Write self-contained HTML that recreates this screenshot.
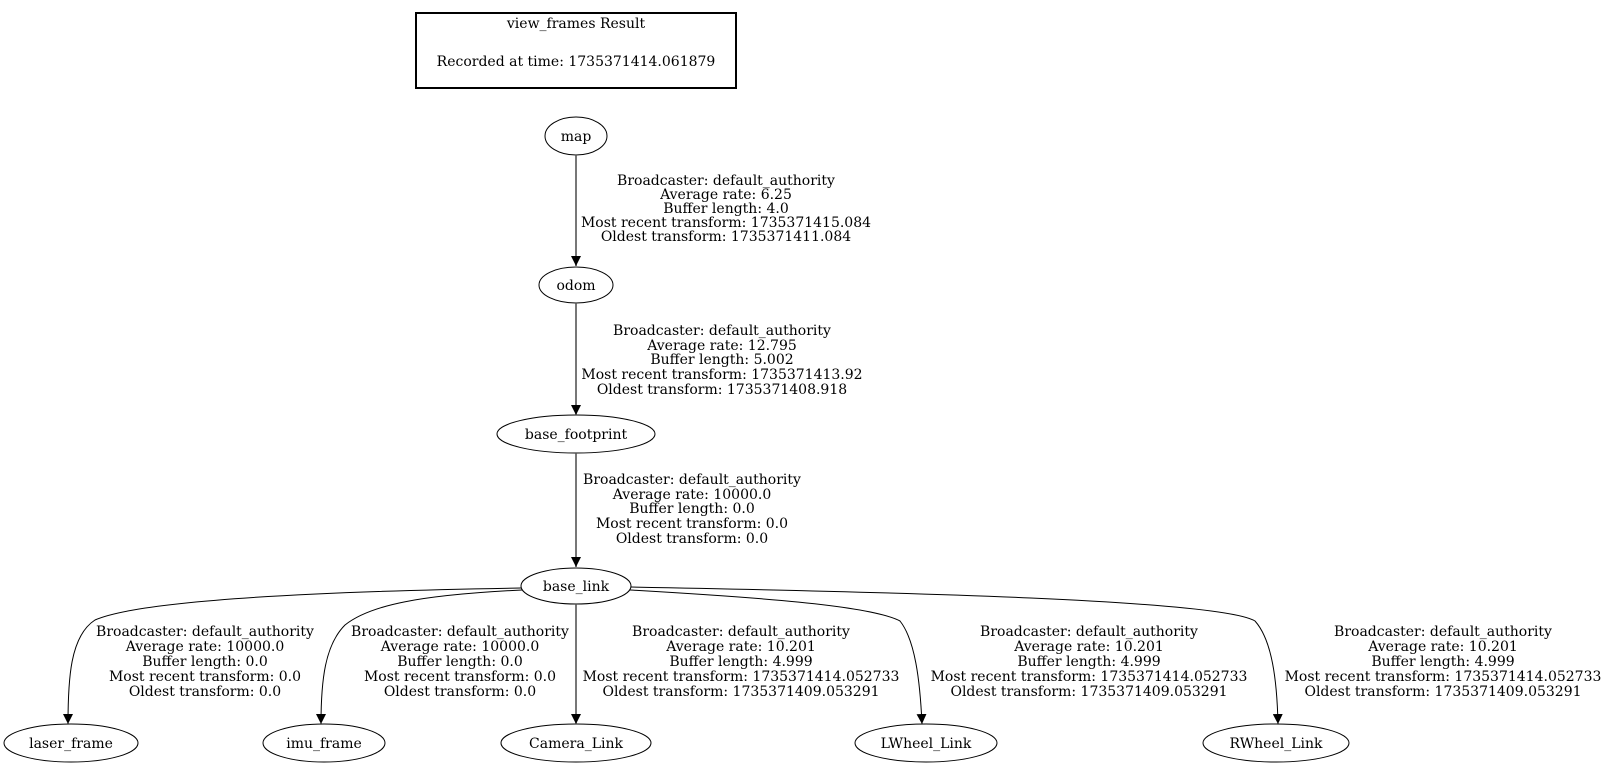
<!DOCTYPE html>
<html><head><meta charset="utf-8"><style>
html,body{margin:0;padding:0;background:#fff;}
svg text{font-family:"DejaVu Serif","Liberation Serif",serif;font-size:14px;fill:#000;}
</style></head><body>
<svg width="1623" height="771" viewBox="0 0 1623 771" xmlns="http://www.w3.org/2000/svg">
<defs>
<marker id="a" markerWidth="10" markerHeight="10" refX="10" refY="5" orient="auto" markerUnits="userSpaceOnUse">
<path d="M0,0 L10,5 L0,10 z" fill="#000"/></marker>
</defs>
<rect x="416" y="13" width="320" height="75" fill="none" stroke="#000" stroke-width="2"/>
<text x="576" y="28" text-anchor="middle">view_frames Result</text>
<text x="576" y="66" text-anchor="middle">Recorded at time: 1735371414.061879</text>

<g fill="none" stroke="#000" stroke-width="1">
<ellipse cx="576" cy="136" rx="31" ry="19"/>
<ellipse cx="576" cy="285" rx="37" ry="18"/>
<ellipse cx="576" cy="434" rx="79" ry="19"/>
<ellipse cx="576" cy="586" rx="55" ry="18"/>
<ellipse cx="71" cy="743" rx="67" ry="19"/>
<ellipse cx="324" cy="743" rx="61" ry="19"/>
<ellipse cx="576" cy="743" rx="75" ry="19"/>
<ellipse cx="926" cy="743" rx="71" ry="19"/>
<ellipse cx="1276" cy="743" rx="73" ry="19"/>
</g>
<g text-anchor="middle">
<text x="576" y="141">map</text>
<text x="576" y="290">odom</text>
<text x="576" y="439">base_footprint</text>
<text x="576" y="591">base_link</text>
<text x="71" y="748">laser_frame</text>
<text x="324" y="748">imu_frame</text>
<text x="576" y="748">Camera_Link</text>
<text x="926" y="748">LWheel_Link</text>
<text x="1276" y="748">RWheel_Link</text>
</g>

<g fill="none" stroke="#555" stroke-width="1.6" marker-end="url(#a)">
<path d="M576,155 L576,266"/>
<path d="M576,303 L576,415"/>
<path d="M576,453 L576,567"/>
<path d="M576,604 L576,724"/>
</g>
<g fill="none" stroke="#000" stroke-width="1" marker-end="url(#a)">
<path d="M521,588 C400,590 150,596 95,620 C70,636 68,680 68,724"/>
<path d="M522,590 C420,595 370,605 345,625 C325,645 321,680 321,724"/>
<path d="M630,590 C750,597 870,605 900,621 C915,640 920,680 922,724"/>
<path d="M631,587 C900,592 1220,600 1255,621 C1272,640 1277,680 1278,724"/>
</g>

<g text-anchor="middle">
<text x="726" y="185">Broadcaster: default_authority</text>
<text x="726" y="199">Average rate: 6.25</text>
<text x="726" y="213">Buffer length: 4.0</text>
<text x="726" y="227">Most recent transform: 1735371415.084</text>
<text x="726" y="241">Oldest transform: 1735371411.084</text>

<text x="722" y="335">Broadcaster: default_authority</text>
<text x="722" y="350">Average rate: 12.795</text>
<text x="722" y="364">Buffer length: 5.002</text>
<text x="722" y="379">Most recent transform: 1735371413.92</text>
<text x="722" y="394">Oldest transform: 1735371408.918</text>

<text x="692" y="484">Broadcaster: default_authority</text>
<text x="692" y="499">Average rate: 10000.0</text>
<text x="692" y="513">Buffer length: 0.0</text>
<text x="692" y="528">Most recent transform: 0.0</text>
<text x="692" y="543">Oldest transform: 0.0</text>

<text x="205" y="636">Broadcaster: default_authority</text>
<text x="205" y="651">Average rate: 10000.0</text>
<text x="205" y="666">Buffer length: 0.0</text>
<text x="205" y="681">Most recent transform: 0.0</text>
<text x="205" y="696">Oldest transform: 0.0</text>

<text x="460" y="636">Broadcaster: default_authority</text>
<text x="460" y="651">Average rate: 10000.0</text>
<text x="460" y="666">Buffer length: 0.0</text>
<text x="460" y="681">Most recent transform: 0.0</text>
<text x="460" y="696">Oldest transform: 0.0</text>

<text x="741" y="636">Broadcaster: default_authority</text>
<text x="741" y="651">Average rate: 10.201</text>
<text x="741" y="666">Buffer length: 4.999</text>
<text x="741" y="681">Most recent transform: 1735371414.052733</text>
<text x="741" y="696">Oldest transform: 1735371409.053291</text>

<text x="1089" y="636">Broadcaster: default_authority</text>
<text x="1089" y="651">Average rate: 10.201</text>
<text x="1089" y="666">Buffer length: 4.999</text>
<text x="1089" y="681">Most recent transform: 1735371414.052733</text>
<text x="1089" y="696">Oldest transform: 1735371409.053291</text>

<text x="1443" y="636">Broadcaster: default_authority</text>
<text x="1443" y="651">Average rate: 10.201</text>
<text x="1443" y="666">Buffer length: 4.999</text>
<text x="1443" y="681">Most recent transform: 1735371414.052733</text>
<text x="1443" y="696">Oldest transform: 1735371409.053291</text>
</g>
</svg>
</body></html>
